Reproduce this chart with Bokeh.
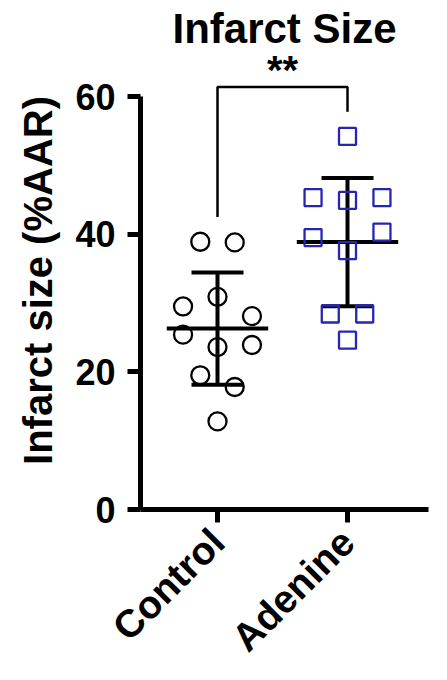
import numpy as np
from bokeh.plotting import figure
from bokeh.models import ColumnDataSource, FixedTicker, Range1d, Label
from bokeh.embed import file_html
from bokeh.resources import INLINE

# 數據 (讀自原圖, %AAR)
groups = ["Control", "Adenine"]
control = [38.9, 38.8, 29.5, 30.9, 28.1, 25.4, 23.6, 23.9, 19.5, 17.8, 12.8]
adenine = [54.2, 45.3, 44.9, 45.3, 39.5, 37.6, 40.3, 28.4, 28.4, 24.6]
y_ticks = [0, 20, 40, 60]
signif = "**"

FONT = "Liberation Sans"
BLUE = "#2626b2"


def swarm(vals, gap=3.0, step=0.265):
    # 依數值分列 (類似 Prism 的散點排列), 同一列內左右對稱展開
    order = sorted(range(len(vals)), key=lambda i: -vals[i])
    rows, cur = [], [order[0]]
    for i in order[1:]:
        if vals[cur[0]] - vals[i] > gap:
            rows.append(cur)
            cur = [i]
        else:
            cur.append(i)
    rows.append(cur)
    off = [0.0] * len(vals)
    for r in rows:
        r = sorted(r)
        for k, i in enumerate(r):
            off[i] = (k - (len(r) - 1) / 2) * step
    return off


p = figure(width=447, height=680, x_range=Range1d(0.4077, 2.7692), y_range=Range1d(0, 66.54),
           output_backend="svg", toolbar_location=None,
           min_border_left=140, min_border_right=0, min_border_top=51, min_border_bottom=171)

# 標題
p.title.text = "Infarct Size"
p.title.align = "left"
p.title.offset = 32
p.title.standoff = 0
p.title.text_font = FONT
p.title.text_font_size = "42px"
p.title.text_font_style = "bold"
p.title.text_color = "black"

p.outline_line_color = None
p.grid.grid_line_color = None
p.background_fill_color = "white"
p.border_fill_color = "white"

# 散點 + 平均值 ± SD
styles = [dict(marker="circle", size=18, color="black"),
          dict(marker="square", size=17, color=BLUE)]
for gi, (vals, st) in enumerate(zip([control, adenine], styles)):
    xc = gi + 1
    offs = swarm(vals)
    src = ColumnDataSource(data=dict(x=[xc + o for o in offs], y=vals))

    m = float(np.mean(vals))
    sd = float(np.std(vals, ddof=1))
    p.segment(x0=[xc, xc - 0.2, xc - 0.2], y0=[m - sd, m + sd, m - sd],
              x1=[xc, xc + 0.2, xc + 0.2], y1=[m + sd, m + sd, m - sd],
              line_color="black", line_width=4)
    p.segment(x0=[xc - 0.39], y0=[m], x1=[xc + 0.39], y1=[m], line_color="black", line_width=4)

    p.scatter(x="x", y="y", source=src, marker=st["marker"], size=st["size"],
              fill_alpha=0, line_color=st["color"], line_width=2.3)

# 顯著性標記
gap = 3.6
top = max(max(control), max(adenine)) + 2 * gap
p.line(x=[1, 1, 2, 2], y=[max(control) + gap, top, top, max(adenine) + gap],
       line_color="black", line_width=2.5)
p.add_layout(Label(x=1.5, y=top + 2.4, text=signif, text_align="center", text_baseline="alphabetic",
                   text_font=FONT, text_font_style="bold", text_font_size="40px", text_color="black"))

# x 軸 (線向左延伸到 y 軸刻度外端)
xa = p.xaxis[0]
xa.bounds = (0.3077, 2.6231)
xa.ticker = FixedTicker(ticks=[1, 2])
xa.major_label_overrides = {1: groups[0], 2: groups[1]}
xa.major_label_orientation = np.pi / 4
xa.minor_tick_line_color = None
xa.axis_line_width = 5
xa.major_tick_line_width = 5
xa.major_tick_in = 0
xa.major_tick_out = 13
xa.major_label_standoff = 13
xa.major_label_text_font = FONT
xa.major_label_text_font_style = "bold"
xa.major_label_text_font_size = "39px"
xa.major_label_text_color = "black"

# y 軸
ya = p.yaxis[0]
ya.bounds = (0, 60)
ya.ticker = FixedTicker(ticks=y_ticks)
ya.minor_tick_line_color = None
ya.axis_line_width = 5
ya.major_tick_line_width = 5
ya.major_tick_in = 0
ya.major_tick_out = 13
ya.major_label_standoff = 12
ya.major_label_text_font = FONT
ya.major_label_text_font_style = "bold"
ya.major_label_text_font_size = "36px"
ya.major_label_text_color = "black"
ya.axis_label = "Infarct size (%AAR)"
ya.axis_label_standoff = 12
ya.axis_label_text_font = FONT
ya.axis_label_text_font_style = "bold"
ya.axis_label_text_font_size = "40px"
ya.axis_label_text_color = "black"

open("out.html", "w").write(file_html(p, INLINE))
